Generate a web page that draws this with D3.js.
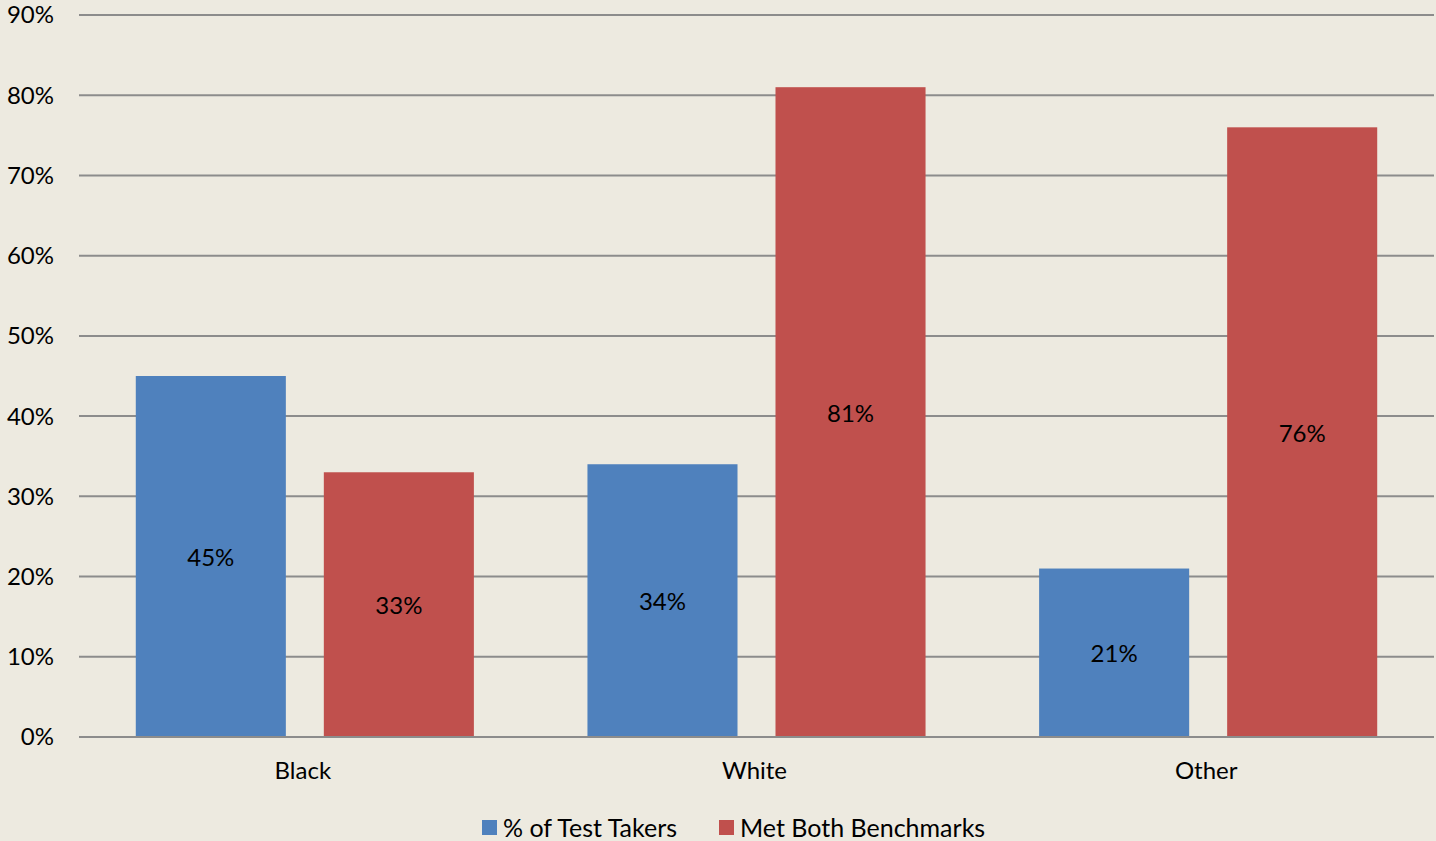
<!DOCTYPE html>
<html>
<head>
<meta charset="utf-8">
<script src="https://cdn.jsdelivr.net/npm/d3@7"></script>
<style>
  body { margin: 0; background: #edeae0; }
  svg { display: block; font-family: Lato, "Open Sans", sans-serif; }
</style>
</head>
<body>
<svg id="chart" width="1436" height="841"></svg>
<script>
var categories = ["Black", "White", "Other"];
var seriesNames = ["% of Test Takers", "Met Both Benchmarks"];
var testTakers = [45, 34, 21];
var metBenchmarks = [33, 81, 76];
var yTicks = [0, 10, 20, 30, 40, 50, 60, 70, 80, 90];
var colors = ["#4f81bd", "#c0504d"];

var svg = d3.select("#chart");
var plotLeft = 79, plotRight = 1434, plotTop = 15, plotBottom = 737;
var fontSize = 24;

var x = d3.scaleBand()
    .domain(categories)
    .range([plotLeft, plotRight]);

var x1 = d3.scaleBand()
    .domain(seriesNames)
    .range([0, x.bandwidth()])
    .paddingInner(0.202)
    .paddingOuter(0.302);

var y = d3.scaleLinear()
    .domain([0, 90])
    .range([plotBottom, plotTop]);

svg.append("rect")
    .attr("width", 1436).attr("height", 841)
    .attr("fill", "#edeae0");

// gridlines
svg.append("g")
  .selectAll("line")
  .data(yTicks)
  .enter().append("line")
    .attr("x1", plotLeft).attr("x2", plotRight)
    .attr("y1", function(d) { return y(d); })
    .attr("y2", function(d) { return y(d); })
    .attr("stroke", "#8c8c8c")
    .attr("stroke-width", 2);

// y labels
svg.append("g")
  .selectAll("text")
  .data(yTicks)
  .enter().append("text")
    .attr("x", 54)
    .attr("y", function(d) { return y(d); })
    .attr("dy", "0.35em")
    .attr("text-anchor", "end")
    .attr("font-size", fontSize)
    .attr("fill", "#000")
    .text(function(d) { return d + "%"; });

var rows = categories.map(function(c, i) {
  return { cat: c, vals: [testTakers[i], metBenchmarks[i]] };
});

var groups = svg.append("g")
  .selectAll("g")
  .data(rows)
  .enter().append("g")
    .attr("transform", function(d) { return "translate(" + x(d.cat) + ",0)"; });

var bars = groups.selectAll("g")
  .data(function(d) {
    return d.vals.map(function(v, j) { return { name: seriesNames[j], value: v, idx: j }; });
  })
  .enter().append("g");

bars.append("rect")
    .attr("x", function(d) { return x1(d.name); })
    .attr("width", x1.bandwidth())
    .attr("y", function(d) { return y(d.value); })
    .attr("height", function(d) { return plotBottom - y(d.value); })
    .attr("fill", function(d) { return colors[d.idx]; });

bars.append("text")
    .attr("x", function(d) { return x1(d.name) + x1.bandwidth() / 2; })
    .attr("y", function(d) { return (y(d.value) + plotBottom) / 2; })
    .attr("dy", "0.4em")
    .attr("text-anchor", "middle")
    .attr("font-size", fontSize)
    .text(function(d) { return d.value + "%"; });

// axis line
svg.append("line")
    .attr("x1", plotLeft).attr("x2", plotRight)
    .attr("y1", plotBottom).attr("y2", plotBottom)
    .attr("stroke", "#8c8c8c")
    .attr("stroke-width", 2);

// category labels
svg.append("g")
  .selectAll("text")
  .data(categories)
  .enter().append("text")
    .attr("x", function(d) { return x(d) + x.bandwidth() / 2 - 2; })
    .attr("y", 771)
    .attr("dy", "0.35em")
    .attr("text-anchor", "middle")
    .attr("font-size", fontSize)
    .text(function(d) { return d; });

// legend
var legendX = [482, 719];
var legend = svg.append("g")
  .selectAll("g")
  .data(seriesNames)
  .enter().append("g")
    .attr("transform", function(d, i) { return "translate(" + legendX[i] + ",820)"; });

legend.append("rect")
    .attr("width", 15).attr("height", 15)
    .attr("fill", function(d, i) { return colors[i]; });

legend.append("text")
    .attr("x", 21)
    .attr("y", 8)
    .attr("dy", "0.35em")
    .attr("font-size", 25)
    .text(function(d) { return d; });
</script>
</body>
</html>
